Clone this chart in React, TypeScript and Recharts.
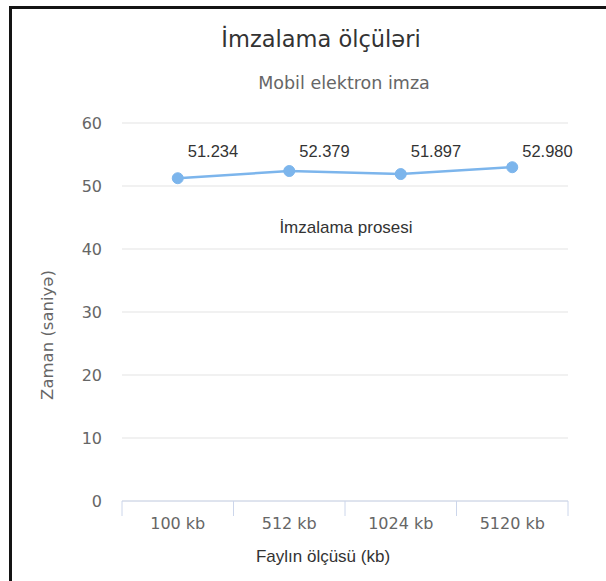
import { LineChart, Line, XAxis, YAxis, CartesianGrid, LabelList } from 'recharts';

// file sizes and signing time (seconds)
const categories = ['100 kb', '512 kb', '1024 kb', '5120 kb'];
const signTimes = [51.234, 52.379, 51.897, 52.98];
const yTicks = [0, 10, 20, 30, 40, 50, 60];

const bandEdges = categories.map((_, i) => i).concat(categories.length);
const chartData = categories.map((name, i) => ({ pos: i + 0.5, name, value: signTimes[i] }));
const labelTicks = chartData.map((d) => d.pos);

const W = 606;
const H = 581;
const PLOT_TOP = 123;
const DEJAVU = '"DejaVu Sans", Verdana, sans-serif';
const ARIAL = '"Liberation Sans", Arial, sans-serif';

function PointLabel(props: any) {
  const { x, value } = props;
  return (
    <text x={Number(x) + 10} y={PLOT_TOP + 34} fontFamily={ARIAL} fontSize={16.5} fill="#333">
      {Number(value).toFixed(3)}
    </text>
  );
}

const centered = (x: number, y: number): React.CSSProperties => ({
  position: 'absolute',
  left: x,
  top: y,
  transform: 'translate(-50%, -50%)',
  whiteSpace: 'nowrap',
});

export default function App() {
  return (
    <div
      style={{
        position: 'fixed',
        left: 0,
        top: 0,
        width: W,
        height: H,
        overflow: 'hidden',
        background: '#fff',
      }}
    >
      <div
        style={{
          position: 'absolute',
          left: 9,
          top: 6,
          width: W + 20,
          height: H + 20,
          borderTop: '3px solid #141414',
          borderLeft: '3px solid #141414',
        }}
      />
      <LineChart
        width={W}
        height={H}
        data={chartData}
        margin={{ top: PLOT_TOP, right: 38, left: 62, bottom: 49 }}
      >
        <CartesianGrid vertical={false} stroke="#e3e3e3" />
        <XAxis
          xAxisId="edges"
          type="number"
          dataKey="pos"
          domain={[0, categories.length]}
          ticks={bandEdges}
          height={1}
          tickSize={15}
          tickFormatter={() => ''}
          axisLine={{ stroke: '#ccd6eb' }}
          tickLine={{ stroke: '#ccd6eb' }}
        />
        <XAxis
          xAxisId="labels"
          type="number"
          dataKey="pos"
          domain={[0, categories.length]}
          ticks={labelTicks}
          height={30}
          tickSize={0}
          tickMargin={16}
          axisLine={false}
          tickLine={false}
          tickFormatter={(v) => categories[Math.floor(v)]}
          tick={{ fontFamily: DEJAVU, fontSize: 16, fill: '#666' }}
        />
        <YAxis
          domain={[0, 60]}
          ticks={yTicks}
          width={60}
          tickSize={0}
          tickMargin={20}
          axisLine={false}
          tickLine={false}
          tick={{ fontFamily: DEJAVU, fontSize: 16, fill: '#666' }}
        />
        <Line
          xAxisId="labels"
          dataKey="value"
          stroke="#7cb5ec"
          strokeWidth={2.5}
          dot={{ r: 5.5, fill: '#7cb5ec', stroke: '#7cb5ec', strokeWidth: 1 }}
          activeDot={false}
          isAnimationActive={false}
        >
          <LabelList dataKey="value" content={PointLabel} />
        </Line>
      </LineChart>
      <div style={{ ...centered(321, 39), fontFamily: DEJAVU, fontSize: 22.5, color: '#333' }}>
        İmzalama ölçüləri
      </div>
      <div style={{ ...centered(344, 83), fontFamily: DEJAVU, fontSize: 17.5, color: '#666' }}>
        Mobil elektron imza
      </div>
      <div style={{ ...centered(346, 228), fontFamily: ARIAL, fontSize: 17, color: '#333' }}>
        İmzalama prosesi
      </div>
      <div style={{ ...centered(323, 557), fontFamily: ARIAL, fontSize: 17, color: '#333' }}>
        Faylın ölçüsü (kb)
      </div>
      <div
        style={{
          ...centered(47, 335),
          transform: 'translate(-50%, -50%) rotate(-90deg)',
          fontFamily: DEJAVU,
          fontSize: 16.5,
          color: '#666',
        }}
      >
        Zaman (saniyə)
      </div>
    </div>
  );
}
